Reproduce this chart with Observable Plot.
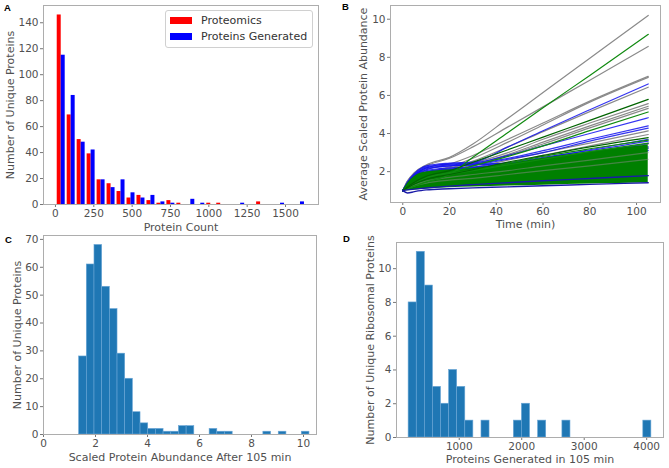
<!DOCTYPE html>
<html><head><meta charset="utf-8">
<script src="https://cdn.jsdelivr.net/npm/d3@7"></script>
<script src="https://cdn.jsdelivr.net/npm/@observablehq/plot@0.6"></script>
<style>
body{margin:0;background:#fff;}
#fig{position:relative;width:669px;height:468px;overflow:hidden;font-family:"DejaVu Sans";}
.panel{position:absolute;}
.letter{position:absolute;font-family:"Liberation Sans",Arial,sans-serif;font-weight:bold;font-size:9.5px;line-height:9px;color:#000;}
.legend{position:absolute;left:165px;top:10px;width:146px;height:36px;border:1px solid #d0d0d0;border-radius:3px;background:rgba(255,255,255,0.85);font-family:"DejaVu Sans";font-size:11px;color:#333;}
.sw{position:absolute;left:4px;width:22px;height:7.5px;}
.lt{position:absolute;left:35px;line-height:12px;}
</style></head>
<body>
<div id="fig">
  <div class="panel" id="pA" style="left:0;top:0"></div>
  <div class="panel" id="pB" style="left:330px;top:0"></div>
  <div class="panel" id="pC" style="left:0;top:230px"></div>
  <div class="panel" id="pD" style="left:330px;top:230px"></div>
  <div class="legend">
    <div class="sw" style="top:5.5px;background:#ff0000"></div><div class="lt" style="top:3.5px">Proteomics</div>
    <div class="sw" style="top:21.5px;background:#0000ff"></div><div class="lt" style="top:19.5px">Proteins Generated</div>
  </div>
  <div class="letter" style="left:4px;top:3px">A</div>
  <div class="letter" style="left:342px;top:2px">B</div>
  <div class="letter" style="left:5px;top:235px">C</div>
  <div class="letter" style="left:343px;top:234px">D</div>
</div>
<script>
// ---------- Panel A: histogram of protein counts ----------
const aEdges = [5,70,135,200,265,330,395,460,525,590,655,720,785,850,915,980,1045,1110,1175,1240,1305,1370,1435,1500,1565,1630];
const aProteomics = [146,69,50,39,19,16,10,5,7,3,1,3,1,0,0,1,1,0,0,0,2,0,0,0,0];
const aGenerated  = [115,84,48,42,19,13,19,9,5,7,2,1,0,4,1,0,0,0,1,0,0,0,1,0,2];
const aXTicks = [0,250,500,750,1000,1250,1500];
const aYTicks = [0,20,40,60,80,100,120,140];

// ---------- Panel B: abundance trajectories ----------
const bTime = [0, 2, 5, 10, 20, 30, 45, 60, 80, 105];
const bGray = [
  [1.0,1.5,1.95,2.35,2.75,3.45,4.8,6.15,7.95,10.2],
  [1.0,1.5,1.95,2.3,2.7,3.3,4.35,5.4,6.8,8.57],
  [1.0,1.4,1.8,2.1,2.4,2.85,3.7,4.55,5.7,7.0],
  [1.0,1.35,1.7,1.95,2.25,2.7,3.55,4.45,5.65,6.95],
  [1.0,1.3,1.6,1.9,2.15,2.55,3.3,4.1,5.15,6.43],
  [1.0,1.3,1.6,1.95,2.2,2.45,3.0,3.7,4.55,5.57],
  [1.0,1.25,1.55,1.85,2.1,2.35,2.9,3.55,4.4,5.43],
  [1.0,1.25,1.5,1.8,2.0,2.3,2.85,3.45,4.3,5.32],
  [1.0,1.2,1.45,1.7,1.95,2.2,2.6,3.0,3.5,4.14],
  [1.0,1.2,1.4,1.65,1.9,2.1,2.45,2.85,3.35,3.95],
  [1.0,1.2,1.4,1.6,1.85,2.0,2.3,2.6,2.95,3.45],
  [1.0,1.15,1.35,1.55,1.75,1.9,2.15,2.45,2.8,3.25]
];
const bGrayOver = [
  [1.0,1.15,1.3,1.5,1.7,1.85,2.05,2.3,2.6,3.0],
  [1.0,1.1,1.25,1.4,1.55,1.65,1.85,2.05,2.3,2.65]
];
const bBlue = [
  [1.0,1.45,1.9,2.3,2.45,2.5,3.3,4.15,5.25,6.6],
  [1.0,1.4,1.85,2.25,2.4,2.45,2.85,3.35,4.0,4.83],
  [1.0,1.4,1.8,2.2,2.35,2.4,2.7,3.1,3.7,4.4],
  [1.0,1.35,1.75,2.15,2.3,2.35,2.65,3.0,3.6,4.28],
  [1.0,1.35,1.7,2.05,2.2,2.25,2.45,2.75,3.1,3.6],
  [1.0,1.3,1.65,2.0,2.15,2.2,2.4,2.65,3.0,3.48],
  [1.0,1.35,1.75,2.1,2.3,2.35,2.45,2.6,2.9,3.3],
  [1.0,1.3,1.6,1.95,2.1,2.2,2.35,2.5,2.8,3.2],
  [1.0,1.4,1.8,2.2,2.4,2.4,2.45,2.7,3.15,3.7],
  [1.0,1.3,1.65,1.95,2.1,2.15,2.25,2.4,2.7,3.1]
];
const bNavy = [
  [1.0,0.88,0.95,1.04,1.1,1.15,1.2,1.26,1.33,1.42],
  [1.0,1.04,1.08,1.14,1.24,1.32,1.42,1.52,1.64,1.79]
];
const bGreen = [
  [1.0,1.1,1.25,1.45,1.85,2.75,4.05,5.35,7.05,9.2],
  [1.0,1.15,1.4,1.7,1.95,2.3,2.8,3.35,4.15,5.13],
  [1.0,1.2,1.45,1.7,1.9,2.1,2.45,2.8,3.2,3.65],
  [1.0,1.2,1.4,1.65,1.85,2.05,2.35,2.65,3.05,3.5]
];
const bDarkGreen = [
  [1.0,1.2,1.45,1.75,2.05,2.49,3.15,3.81,4.69,5.79],
  [1.0,1.15,1.35,1.6,1.85,2.1,2.5,2.85,3.3,3.79]
];
const bBandLow  = [1.0,1.0,1.04,1.09,1.15,1.19,1.24,1.29,1.35,1.42];
const bBandHigh = [1.0,1.38,1.75,1.98,2.08,2.17,2.4,2.7,3.05,3.4];
const bXTicks = [0,20,40,60,80,100];
const bYTicks = [2,4,6,8,10];

// ---------- Panel C: final scaled abundance ----------
const cEdges = [1.370,1.665,1.961,2.256,2.551,2.847,3.142,3.437,3.732,4.028,4.323,4.618,4.914,5.209,5.504,5.800,6.095,6.390,6.685,6.981,7.276,7.571,7.867,8.162,8.457,8.753,9.048,9.343,9.638,9.934,10.229];
const cCounts = [28,61,68,53,45,29,20,8,4,2,2,1,1,3,3,0,0,2,1,1,0,0,0,0,1,0,1,0,0,1];
const cXTicks = [0,2,4,6,8,10];
const cYTicks = [0,10,20,30,40,50,60,70];

// ---------- Panel D: ribosomal proteins generated ----------
const dEdges = [190,320,449,579,708,838,967,1097,1226,1356,1485,1615,1744,1874,2003,2133,2262,2392,2521,2651,2780,2910,3039,3169,3298,3428,3557,3687,3816,3946,4075];
const dCounts = [8,11,9,3,2,4,3,1,0,1,0,0,0,1,2,0,1,0,0,1,0,0,0,0,0,0,0,0,0,1];
const dXTicks = [1000,2000,3000,4000];
const dYTicks = [0,2,4,6,8,10];

// ---------- shared styling ----------
const TXT = "#505050", TICK = "#777", FRAME = "#adadad", HIST = "#1f77b4";
const fmt = d3.format("d");
const baseStyle = {fontFamily: "DejaVu Sans", fontSize: "10.5px", background: "transparent", overflow: "visible", color: TXT};
function axes(xt, yt, xl, yl, xdy, ydx) {
  return [
    Plot.axisX({ticks: xt, tickFormat: fmt, tickSize: 3, tickPadding: 2, label: null, stroke: TICK, fill: TXT}),
    Plot.axisY({ticks: yt, tickFormat: fmt, tickSize: 3, tickPadding: 2, label: null, stroke: TICK, fill: TXT}),
    Plot.text([xl], {text: d => d, frameAnchor: "bottom", lineAnchor: "middle", textAnchor: "middle", dy: xdy, fontSize: 11, fill: TXT}),
    Plot.text([yl], {text: d => d, frameAnchor: "left", lineAnchor: "middle", textAnchor: "middle", rotate: -90, dx: ydx, fontSize: 11, fill: TXT})
  ];
}
function histRows(edges, counts) {
  return counts.map((c, i) => ({x1: edges[i], x2: edges[i + 1], y: c})).filter(d => d.y > 0);
}

// Panel A rows: two side-by-side bars per bin (matplotlib layout: 80% of bin)
const aRows = [];
aProteomics.forEach((c, i) => {
  const lo = aEdges[i], w = aEdges[i + 1] - aEdges[i];
  if (c > 0) aRows.push({x1: lo + 0.1 * w, x2: lo + 0.5 * w, y: c, s: "Proteomics"});
  const g = aGenerated[i];
  if (g > 0) aRows.push({x1: lo + 0.5 * w, x2: lo + 0.9 * w, y: g, s: "Proteins Generated"});
});

const plotA = Plot.plot({
  width: 330, height: 230, marginLeft: 43, marginRight: 12, marginTop: 5, marginBottom: 26,
  style: baseStyle,
  x: {domain: [-78, 1715]}, y: {domain: [0, 153.3]},
  color: {domain: ["Proteomics", "Proteins Generated"], range: ["#ff0000", "#0000ff"]},
  marks: [
    Plot.rectY(aRows, {x1: "x1", x2: "x2", y: "y", fill: "s", inset: 0}),
    ...axes(aXTicks, aYTicks, "Protein Count", "Number of Unique Proteins", 22.5, -33),
    Plot.frame({stroke: FRAME})
  ]
});
document.getElementById("pA").appendChild(plotA);

// Panel B rows
function toRows(series, tag) {
  return series.flatMap((vals, k) => vals.map((v, i) => ({t: bTime[i], v, id: tag + k})));
}
const bandRows = bTime.map((t, i) => ({t, lo: bBandLow[i], hi: bBandHigh[i]}));
const lineOpts = (stroke, extra = {}) => ({x: "t", y: "v", z: "id", stroke, strokeWidth: 1.2, curve: "monotone-x", ...extra});

const plotB = Plot.plot({
  width: 339, height: 230, marginLeft: 60, marginRight: 9, marginTop: 5, marginBottom: 28,
  style: baseStyle,
  x: {domain: [-5.25, 110.25]}, y: {domain: [0.38, 10.72]},
  marks: [
    Plot.line(toRows(bGray, "g"), lineOpts("#8a8a8a")),
    Plot.line(toRows(bBlue, "b"), lineOpts("#1010ee", {strokeOpacity: 0.85})),
    Plot.areaY(bandRows, {x: "t", y1: "lo", y2: "hi", fill: "#008000", curve: "monotone-x"}),
    Plot.line(toRows(bGrayOver, "go"), lineOpts("#8a8a8a", {strokeOpacity: 0.5})),
    Plot.line(toRows(bGreen, "gr"), lineOpts("#108a10")),
    Plot.line(toRows(bDarkGreen, "dg"), lineOpts("#006400")),
    Plot.line(toRows(bNavy, "n"), lineOpts("#1a1aa8", {strokeWidth: 1.4})),
    ...axes(bXTicks, bYTicks, "Time (min)", "Average Scaled Protein Abundance", 21.5, -27),
    Plot.frame({stroke: FRAME})
  ]
});
document.getElementById("pB").appendChild(plotB);

const plotC = Plot.plot({
  width: 330, height: 238, marginLeft: 43, marginRight: 14, marginTop: 5, marginBottom: 34,
  style: baseStyle,
  x: {domain: [0, 10.5]}, y: {domain: [0, 71.4]},
  marks: [
    Plot.rectY(histRows(cEdges, cCounts), {x1: "x1", x2: "x2", y: "y", fill: HIST, stroke: "#6aa6d6", strokeWidth: 0.6, inset: 0}),
    ...axes(cXTicks, cYTicks, "Scaled Protein Abundance After 105 min", "Number of Unique Proteins", 22.7, -26.3),
    Plot.frame({stroke: FRAME})
  ]
});
document.getElementById("pC").appendChild(plotC);

const plotD = Plot.plot({
  width: 339, height: 238, marginLeft: 66, marginRight: 6, marginTop: 12, marginBottom: 31,
  style: baseStyle,
  x: {domain: [-4, 4269]}, y: {domain: [0, 11.55]},
  marks: [
    Plot.rectY(histRows(dEdges, dCounts), {x1: "x1", x2: "x2", y: "y", fill: HIST, stroke: "#6aa6d6", strokeWidth: 0.6, inset: 0}),
    ...axes(dXTicks, dYTicks, "Proteins Generated in 105 min", "Number of Unique Ribosomal Proteins", 21.5, -26),
    Plot.frame({stroke: FRAME})
  ]
});
document.getElementById("pD").appendChild(plotD);
</script>
</body></html>
